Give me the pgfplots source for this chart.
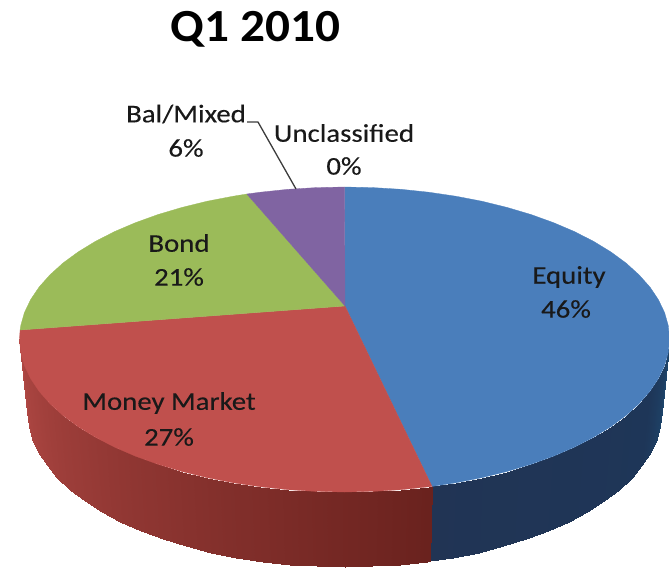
\documentclass[border=0pt]{standalone}
\usepackage{pgfplots}
\pgfplotsset{compat=1.18}
\usepackage{fontspec}
\setmainfont{Carlito}
\newfontfamily\lab[FakeStretch=1.13,FakeBold=0.25]{Carlito}
\newfontfamily\ttl[FakeStretch=1.07]{Carlito}
\definecolor{pblue}{RGB}{74,126,187}
\definecolor{pred}{RGB}{192,80,77}
\definecolor{pgreen}{RGB}{155,187,89}
\definecolor{ppurple}{RGB}{128,100,162}
\definecolor{ink}{RGB}{25,25,25}
\begin{document}
\begin{tikzpicture}
\begin{axis}[
  width=669pt,height=568pt,scale only axis,
  xmin=0,xmax=669,ymin=0,ymax=568,y dir=reverse,
  axis lines=none,
  point meta min=0,point meta max=30,
  colormap={pieside}{rgb255(0cm)=(30,72,110); rgb255(4cm)=(30,54,88); rgb255(10cm)=(33,52,84); rgb255(20cm)=(106,34,30); rgb255(30cm)=(176,72,68)},
  colormap name=pieside,
]
% side, blue
\addplot[surf,shader=interp,mesh/cols=16,point meta=explicit,forget plot] table[meta=c,row sep=\\] {
x y c\\
669.5 339.0 0\\
668.3 352.3 1\\
664.6 365.6 2\\
658.4 378.6 3\\
649.9 391.3 4\\
639.0 403.7 4.5\\
626.0 415.5 5\\
610.7 426.8 5.5\\
593.5 437.3 6\\
574.3 447.2 6.5\\
553.4 456.2 7\\
530.9 464.3 7.5\\
507.0 471.5 8\\
481.8 477.7 8.5\\
455.7 482.8 9\\
432.0 486.4 10\\
661.5 412.0 0\\
660.3 425.5 1\\
656.7 438.9 2\\
650.7 452.1 3\\
642.4 465.0 4\\
631.8 477.5 4.5\\
619.0 489.5 5\\
604.2 500.9 5.5\\
587.3 511.6 6\\
568.7 521.6 6.5\\
548.3 530.7 7\\
526.3 539.0 7.5\\
503.0 546.2 8\\
478.5 552.5 8.5\\
452.9 557.7 9\\
429.8 561.3 10\\
};
% side, red
\addplot[surf,shader=interp,mesh/cols=23,point meta=explicit,forget plot] table[meta=c,row sep=\\] {
x y c\\
432.0 486.4 20\\
428.6 486.8 20\\
400.9 489.7 20.5\\
372.8 491.4 21\\
344.5 492.0 21.4\\
316.2 491.4 21.9\\
288.1 489.7 22.4\\
260.4 486.8 22.9\\
233.3 482.8 23.3\\
207.2 477.7 23.8\\
182.0 471.5 24.3\\
158.1 464.3 24.8\\
135.6 456.2 25.2\\
114.7 447.2 25.7\\
95.5 437.3 26.2\\
78.3 426.8 26.7\\
63.0 415.5 27.1\\
50.0 403.7 27.6\\
39.1 391.3 28.1\\
30.6 378.6 28.6\\
24.4 365.6 29\\
20.7 352.3 29.5\\
19.5 339.0 30\\
429.8 561.3 20\\
426.5 561.7 20\\
399.5 564.6 20.5\\
372.1 566.4 21\\
344.5 567.0 21.4\\
316.9 566.4 21.9\\
289.5 564.6 22.4\\
262.5 561.7 22.9\\
236.1 557.7 23.3\\
210.5 552.5 23.8\\
186.0 546.2 24.3\\
162.7 539.0 24.8\\
140.7 530.7 25.2\\
120.3 521.6 25.7\\
101.7 511.6 26.2\\
84.8 500.9 26.7\\
70.0 489.5 27.1\\
57.2 477.5 27.6\\
46.6 465.0 28.1\\
38.3 452.1 28.6\\
32.3 438.9 29\\
28.7 425.5 29.5\\
27.5 412.0 30\\
};
% top, blue 46%
\addplot[fill=pblue,draw=pblue,line width=0.3pt,forget plot] coordinates {
(345,306)(344.5,187.0)(372.8,187.6)(400.9,189.3)(428.6,192.2)(455.7,196.2)(481.8,201.2)(507.0,207.4)(530.9,214.5)(553.4,222.6)(574.3,231.5)(593.5,241.3)(610.7,251.8)(626.0,263.0)(639.0,274.8)(649.9,287.0)(658.4,299.7)(664.6,312.6)(668.3,325.7)(669.5,339.0)
(668.3,352.3)(664.6,365.6)(658.4,378.6)(649.9,391.3)(639.0,403.7)(626.0,415.5)(610.7,426.8)(593.5,437.3)(574.3,447.2)(553.4,456.2)(530.9,464.3)(507.0,471.5)(481.8,477.7)(455.7,482.8)(432.0,486.4)(345,306)};
% top, red 27%
\addplot[fill=pred,draw=pred,line width=0.3pt,forget plot] coordinates {
(345,306)(432.0,486.4)(428.6,486.8)(400.9,489.7)(372.8,491.4)(344.5,492.0)(316.2,491.4)(288.1,489.7)(260.4,486.8)(233.3,482.8)(207.2,477.7)(182.0,471.5)(158.1,464.3)(135.6,456.2)(114.7,447.2)(95.5,437.3)(78.3,426.8)(63.0,415.5)(50.0,403.7)(39.1,391.3)(30.6,378.6)(24.4,365.6)(20.7,352.3)(19.5,339.0)(20.1,330.0)(345,306)};
% top, green 21%
\addplot[fill=pgreen,draw=pgreen,line width=0.3pt,forget plot] coordinates {
(345,306)(20.1,330.0)(20.7,325.7)(24.4,312.6)(30.6,299.7)(39.1,287.0)(50.0,274.8)(63.0,263.0)(78.3,251.8)(95.5,241.3)(114.7,231.5)(135.6,222.6)(158.1,214.5)(182.0,207.4)(207.2,201.2)(233.3,196.2)(246.8,194.0)(345,306)};
% top, purple 6%
\addplot[fill=ppurple,draw=ppurple,line width=0.3pt,forget plot] coordinates {
(345,306)(246.8,194.0)(260.4,192.2)(288.1,189.3)(316.2,187.6)(344.5,187.0)(345,306)};
% leader line
\addplot[draw=ink!85,line width=1.3pt,forget plot] coordinates {(247,122)(258,122)(296,189)};
\node[font=\fontsize{46}{50}\selectfont\ttl\bfseries,text=black] at (axis cs:255.5,29) {Q1 2010};
\node[font=\fontsize{25.5}{30}\selectfont\lab,text=ink] at (axis cs:569,277) {Equity};
\node[font=\fontsize{25.5}{30}\selectfont\lab,text=ink] at (axis cs:566,309) {46\%};
\node[font=\fontsize{25.5}{30}\selectfont\lab,text=ink] at (axis cs:169,403) {Money Market};
\node[font=\fontsize{25.5}{30}\selectfont\lab,text=ink] at (axis cs:169,437) {27\%};
\node[font=\fontsize{25.5}{30}\selectfont\lab,text=ink] at (axis cs:179,243) {Bond};
\node[font=\fontsize{25.5}{30}\selectfont\lab,text=ink] at (axis cs:179,277) {21\%};
\node[font=\fontsize{25.5}{30}\selectfont\lab,text=ink] at (axis cs:186,114) {Bal/Mixed};
\node[font=\fontsize{25.5}{30}\selectfont\lab,text=ink] at (axis cs:186,148) {6\%};
\node[font=\fontsize{25.5}{30}\selectfont\lab,text=ink] at (axis cs:344,133) {Unclassified};
\node[font=\fontsize{25.5}{30}\selectfont\lab,text=ink] at (axis cs:344,166) {0\%};
\end{axis}
\path (0,0) rectangle (669pt,568pt);
\end{tikzpicture}
\end{document}
